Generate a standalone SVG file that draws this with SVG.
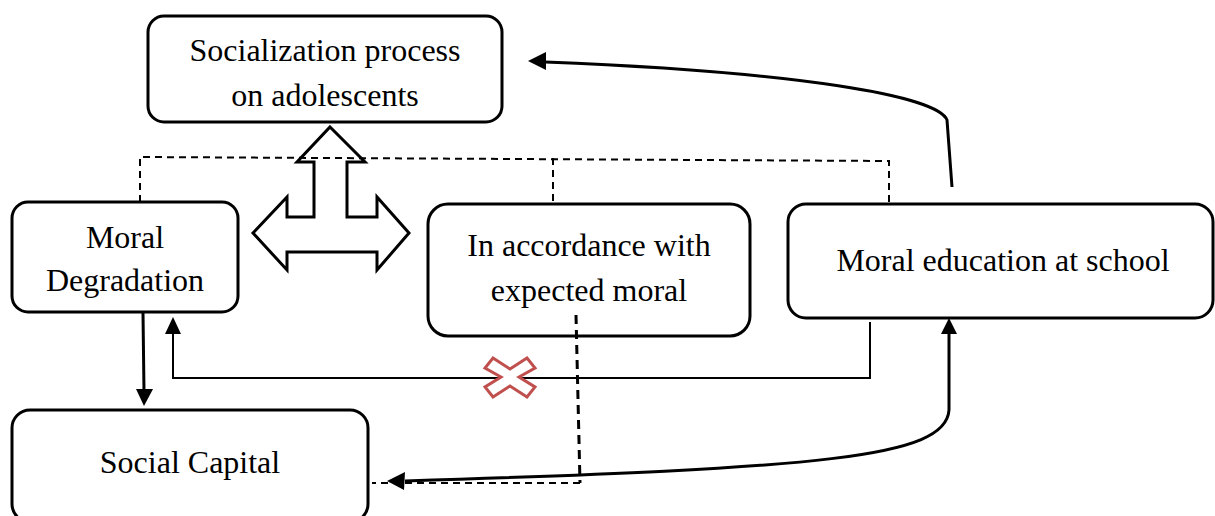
<svg xmlns="http://www.w3.org/2000/svg" width="1215" height="516" viewBox="0 0 1215 516">
<style>
.box{fill:#fff;stroke:#000;stroke-width:3}
.t{font-family:"Liberation Serif","Times New Roman",serif;font-size:32px;fill:#000;text-anchor:middle}
.dash{fill:none;stroke:#000;stroke-width:2;stroke-dasharray:7 5}
.dashk{fill:none;stroke:#000;stroke-width:3;stroke-dasharray:9 6}
.ln{fill:none;stroke:#000;stroke-width:3}
.thin{fill:none;stroke:#000;stroke-width:2}
</style>
<g id="n-socialization">
<rect class="box" x="148" y="16" width="354" height="106" rx="16"/>
<text class="t" x="325" y="61">Socialization process</text>
<text class="t" x="325" y="106">on adolescents</text>
</g>
<g id="n-degradation">
<rect class="box" x="12" y="202" width="226" height="110" rx="16"/>
<text class="t" x="125" y="248">Moral</text>
<text class="t" x="125" y="291">Degradation</text>
</g>
<g id="n-accordance">
<rect class="box" x="428" y="204" width="322" height="132" rx="20"/>
<text class="t" x="589" y="256">In accordance with</text>
<text class="t" x="589" y="301">expected moral</text>
</g>
<g id="n-education">
<rect class="box" x="788" y="204" width="425" height="114" rx="18"/>
<text class="t" x="1003" y="271">Moral education at school</text>
</g>
<g id="n-capital">
<rect class="box" x="12" y="410" width="356" height="112" rx="18"/>
<text class="t" x="190" y="473">Social Capital</text>
</g>
<g id="connectors">
<path d="M330,127 L365,162 L347,162 L347,217 L377,217 L377,197 L409,233 L377,270 L377,252 L287,252 L287,270 L253,233 L287,197 L287,217 L314,217 L314,162 L297,162 z" fill="#fff" stroke="#000" stroke-width="3" stroke-linejoin="miter"/>
<path class="dash" d="M140,202 L140,157 L889,161 L889,204"/>
<path class="dash" d="M553,158 L553,204"/>
<path class="dashk" d="M576,315 L580,483"/>
<path class="dash" d="M580,483 L372,483"/>
<path class="ln" d="M952,187 L947,120 C938,96 800,72 545,62"/>
<path d="M528,61 L546,52 L546,70 z" fill="#000"/>
<path class="ln" d="M949,333 L949,410 C946,458 820,468 405,481"/>
<path d="M387,481 L405,472 L404,490 z" fill="#000"/>
<path d="M949,318 L941,334 L957,334 z" fill="#000"/>
<path class="ln" d="M143,313 L144,392"/>
<path d="M144,406 L136,389 L153,389 z" fill="#000"/>
<path class="thin" d="M870,322 L870,378 L173,378 L173,333"/>
<path d="M173,317 L165,334 L181,334 z" fill="#000"/>
<path d="M493,358 L510,369 L527,358 L535,368 L519,377 L535,387 L527,397 L510,386 L493,397 L485,387 L501,377 L485,368 z" fill="#fff" stroke="#c0504d" stroke-width="3"/>
</g>
</svg>
